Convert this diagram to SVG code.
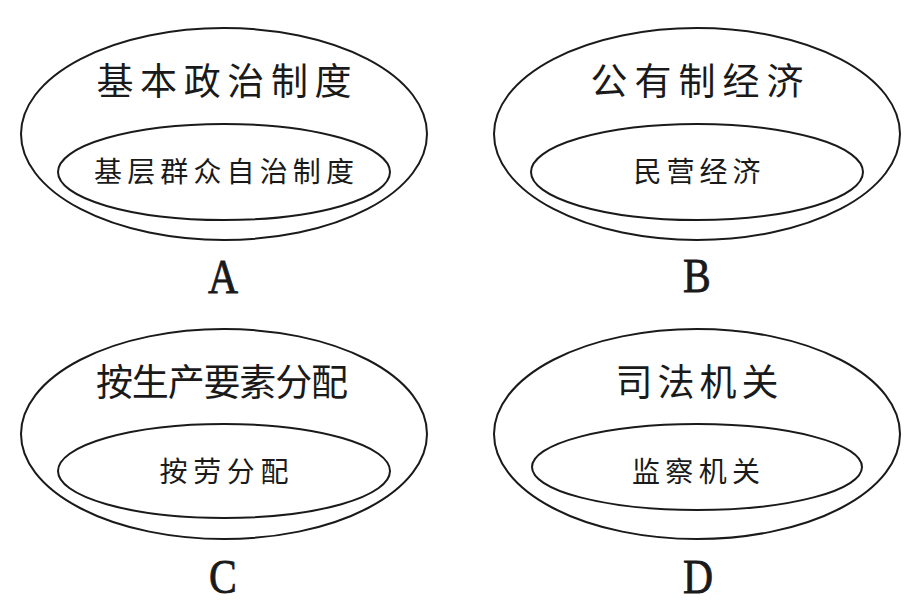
<svg xmlns="http://www.w3.org/2000/svg" width="915" height="612" viewBox="0 0 915 612">
<style>
.o{fill:none;stroke:#1a1a1a;stroke-width:2}
.i{fill:none;stroke:#1a1a1a;stroke-width:2}
.t{font-family:"Noto Sans CJK SC","Noto Sans",sans-serif;font-size:37px;fill:#1a1a1a;text-anchor:middle}
.s{font-family:"Noto Sans CJK SC","Noto Sans",sans-serif;font-size:28px;fill:#1a1a1a;text-anchor:middle}
.l{font-family:"Liberation Serif","Times New Roman",serif;font-size:49px;fill:#1a1a1a;stroke:#1a1a1a;stroke-width:0.8;text-anchor:middle}
</style>
<rect width="915" height="612" fill="#ffffff"/>
<g id="nodeA">
<ellipse class="o" cx="224" cy="134" rx="203" ry="106"/>
<ellipse class="i" cx="224" cy="172" rx="166" ry="48"/>
<text class="t" x="224" y="95" textLength="255" lengthAdjust="spacing">基本政治制度</text>
<text class="s" x="224" y="182" textLength="260" lengthAdjust="spacing">基层群众自治制度</text>
<text class="l" transform="translate(223,293) scale(0.85,1)">A</text>
</g>
<g id="nodeB">
<ellipse class="o" cx="697" cy="134" rx="203" ry="106"/>
<ellipse class="i" cx="697" cy="172" rx="166" ry="48"/>
<text class="t" x="697" y="95" textLength="213" lengthAdjust="spacing">公有制经济</text>
<text class="s" x="697" y="182" textLength="127" lengthAdjust="spacing">民营经济</text>
<text class="l" transform="translate(697,292) scale(0.85,1)">B</text>
</g>
<g id="nodeC">
<ellipse class="o" cx="224" cy="434" rx="203" ry="105"/>
<ellipse class="i" cx="224" cy="471" rx="166" ry="47"/>
<text class="t" x="222" y="396" textLength="252" lengthAdjust="spacing">按生产要素分配</text>
<text class="s" x="224" y="482" textLength="129" lengthAdjust="spacing">按劳分配</text>
<text class="l" transform="translate(223,593) scale(0.85,1)">C</text>
</g>
<g id="nodeD">
<ellipse class="o" cx="697" cy="434" rx="203" ry="105"/>
<ellipse class="i" cx="697" cy="467" rx="165" ry="43"/>
<text class="t" x="697" y="396" textLength="163" lengthAdjust="spacing">司法机关</text>
<text class="s" x="696" y="482" textLength="128" lengthAdjust="spacing">监察机关</text>
<text class="l" transform="translate(698,593) scale(0.85,1)">D</text>
</g>
<g id="connectors"></g>
</svg>
